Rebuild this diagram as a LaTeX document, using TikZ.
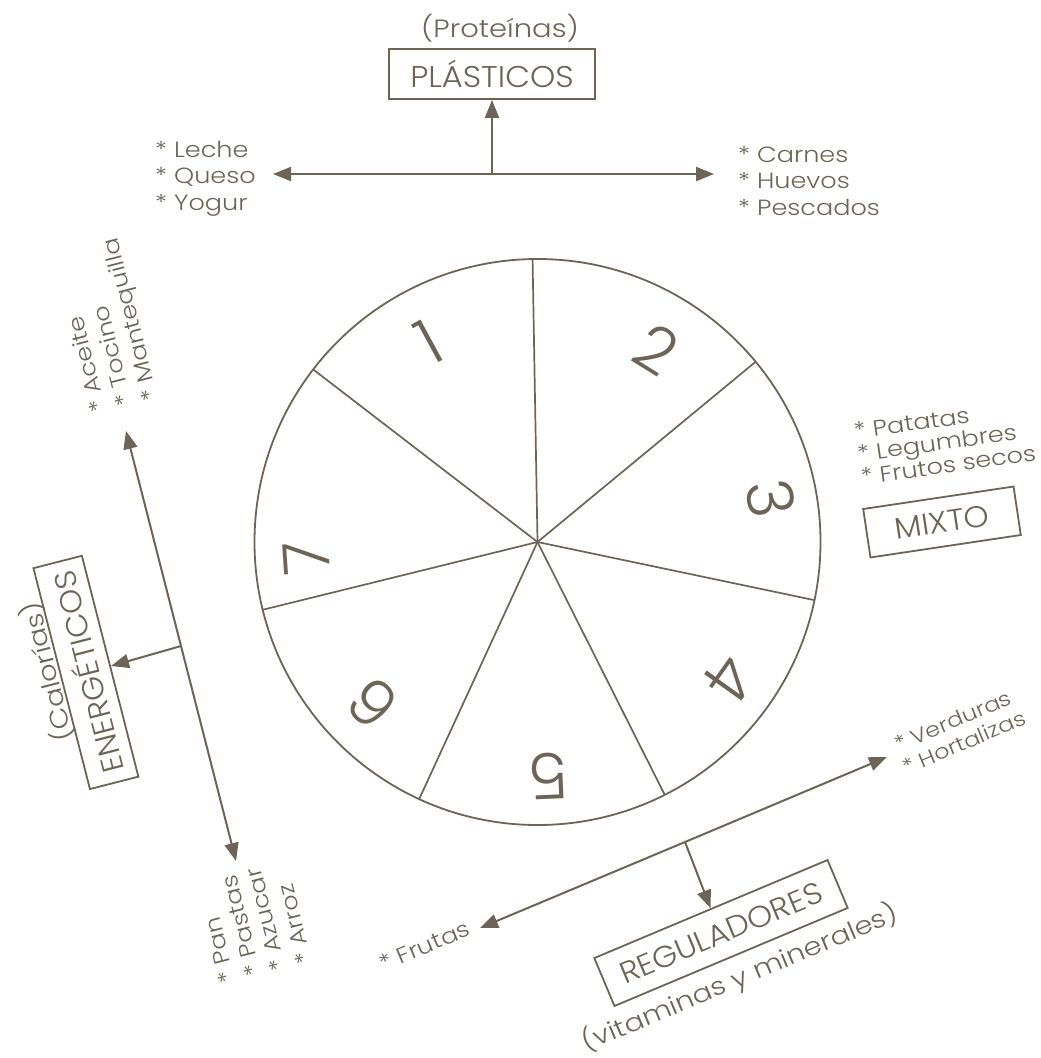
\documentclass[tikz,border=0pt]{standalone}
\usepackage{fontspec}
\setmainfont{Poppins}[UprightFont={* Light}]
\newfontfamily\widefont{Poppins}[UprightFont={* Light}, FakeStretch=1.16]
\newfontfamily\boxfont{Poppins}[UprightFont={* Light}, FakeStretch=1.07]
\usetikzlibrary{arrows.meta,calc}
\definecolor{ink}{RGB}{107,100,87}
\begin{document}
\begin{tikzpicture}[x=1pt,y=-1pt,
  line/.style={draw=ink, line width=2pt},
  arr/.style={-{Triangle[length=18pt,width=14pt]}},
  spoke/.style={draw=ink, line width=1.7pt},
  box/.style={draw=ink, line width=1.8pt, text=ink, font=\boxfont\fontsize{30}{30}\selectfont, inner sep=0pt, minimum height=50pt},
  item/.style={text=ink, font=\widefont\fontsize{22}{22}\selectfont, inner sep=0pt},
  smallitem/.style={text=ink, font=\widefont\fontsize{20.5}{20.5}\selectfont, inner sep=0pt},
  note/.style={text=ink, font=\widefont\fontsize{25}{25}\selectfont, inner sep=0pt},
  digit/.style={text=ink, font=\fontsize{64}{64}\selectfont, inner sep=0pt}]
\useasboundingbox (0,0) rectangle (1041,1058);

% ---- top: plasticos
\node[box, minimum width=206pt] (plas) at (492,74) {PLÁSTICOS};
\node[note] (prot) at (500,28) {(Proteínas)};
\coordinate (tmid) at (492,174);
\coordinate (tleft) at (273,174);
\coordinate (tright) at (714,174);
\draw[line, arr] (tmid) -- (tleft);
\draw[line, arr] (tmid) -- (tright);
\draw[line, arr] (tmid) -- (plas.south);
\node[item, anchor=base west] (leche) at (155,157) {* Leche};
\node[item, anchor=base west] (queso) at (155,183.5) {* Queso};
\node[item, anchor=base west] (yogur) at (155,210) {* Yogur};
\node[item, anchor=base west] (carnes) at (738,162) {* Carnes};
\node[item, anchor=base west] (huevos) at (738,188.5) {* Huevos};
\node[item, anchor=base west] (pesc) at (738,215) {* Pescados};

% ---- wheel
\coordinate (C) at (537.5,542);
\draw[line, line width=1.8pt] (C) circle[radius=283];
\foreach \k in {0,...,6}{
  \pgfmathsetmacro{\ang}{91-\k*51.4286}
  \draw[spoke] (C) -- ++({283*cos(\ang)},{-283*sin(\ang)});
}
\node[digit, rotate=28.5]  (d1) at (428.4,341.4) {1};
\node[digit, rotate=-31.8] (d2) at (656.7,348.9) {2};
\node[digit, rotate=-79.3] (d3) at (770.5,498.1) {3};
\node[digit, rotate=-125.5] (d4) at (729.5,679.1) {4};
\node[digit, rotate=-177.6] (d5) at (548.5,776.1) {5};
\node[digit, rotate=134.4] (d6) at (373.1,703.4) {6};
\node[digit, rotate=93.9]  (d7) at (306.7,557.8) {7};

% ---- left: energeticos
\coordinate (ltop) at (126,431);
\coordinate (lbot) at (236,861);
\coordinate (lmid) at (181,646);
\draw[line, arr] (lmid) -- (ltop);
\draw[line, arr] (lmid) -- (lbot);
\node[box, rotate=104.35, anchor=south, minimum width=228pt] (energ) at (111,666) {ENERGÉTICOS};
\draw[line, arr] (lmid) -- (energ.south);
\node[note, rotate=104.35] (cal) at (47,672) {(Calorías)};
\node[item, rotate=104.35, anchor=base west] (aceite) at (106.6,410) {* Aceite};
\node[item, rotate=104.35, anchor=base west] (tocino) at (132.6,404) {* Tocino};
\node[item, rotate=104.35, anchor=base west] (mant) at (158.6,399) {* Mantequilla};
\node[item, rotate=104.35, anchor=base west] (pan) at (235.6,981) {* Pan};
\node[item, rotate=104.35, anchor=base west] (pastas) at (261.6,974) {* Pastas};
\node[item, rotate=104.35, anchor=base west] (azucar) at (286.6,969) {* Azucar};
\node[item, rotate=104.35, anchor=base west] (arroz) at (312.6,962) {* Arroz};

% ---- right: mixto
\node[item, rotate=8, anchor=base west] (patatas) at (855,439) {* Patatas};
\node[item, rotate=8, anchor=base west] (legum) at (858.5,462) {* Legumbres};
\node[item, rotate=8, anchor=base west] (frutos) at (862,485) {* Frutos secos};
\node[box, rotate=8.5, minimum width=152pt, minimum height=49pt] (mixto) at (942,522) {MIXTO};

% ---- bottom: reguladores
\coordinate (bmid) at (685,842);
\coordinate (bleft) at (480,928);
\coordinate (bright) at (887,757);
\draw[line, arr] (bmid) -- (bleft);
\draw[line, arr] (bmid) -- (bright);
\node[box, rotate=22.8, minimum width=253pt, minimum height=52pt] (reg) at (721,933) {REGULADORES};
\draw[line, arr] (bmid) -- (reg.north);
\node[note, rotate=22.8] (vit) at (740,978) {(vitaminas y minerales)};
\node[smallitem, rotate=22.8, anchor=base west] (verd) at (898,752) {* Verduras};
\node[smallitem, rotate=22.8, anchor=base west] (hort) at (906,775) {* Hortalizas};
\node[item, rotate=22.8, anchor=base west] (frutas) at (383,972) {* Frutas};
\end{tikzpicture}
\end{document}
